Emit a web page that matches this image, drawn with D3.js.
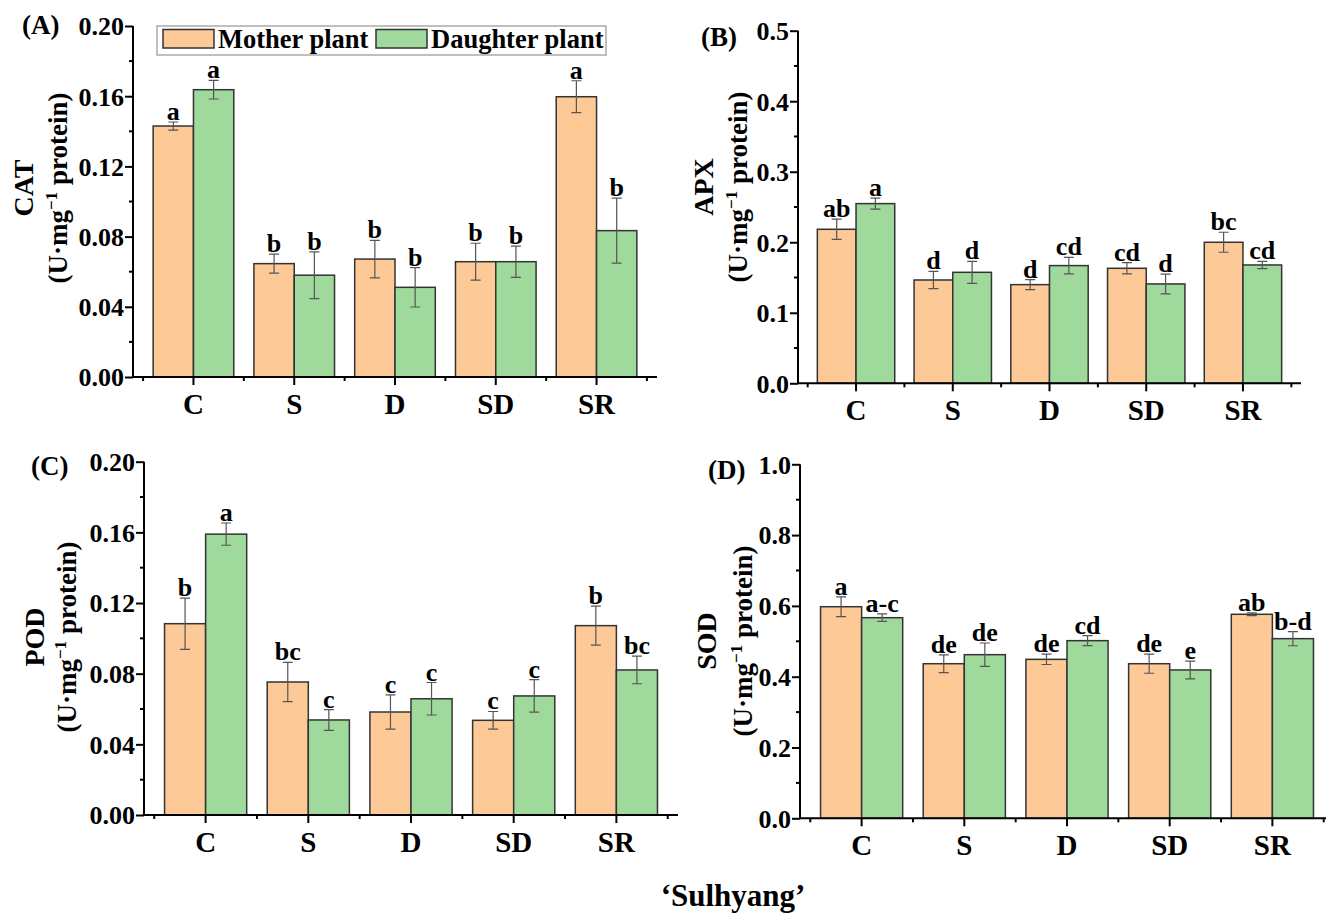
<!DOCTYPE html>
<html>
<head>
<meta charset="utf-8">
<script src="https://cdn.jsdelivr.net/npm/d3@7"></script>
<style>
  html, body { margin: 0; padding: 0; background: #fff; }
  svg text { font-family: "Liberation Serif", "Times New Roman", serif; font-weight: bold; fill: #000; }
</style>
</head>
<body>
<svg id="chart" width="1326" height="918"></svg>
<script>
// ---------------- DATA ----------------
const categories = ["C", "S", "D", "SD", "SR"];
const seriesNames = ["Mother plant", "Daughter plant"];

const catMother = [0.143, 0.0646, 0.0672, 0.0657, 0.1597];
const catMotherErr = [0.0023, 0.0054, 0.0107, 0.0105, 0.0091];
const catDaughter = [0.1637, 0.058, 0.0511, 0.0657, 0.0834];
const catDaughterErr = [0.0053, 0.0133, 0.0112, 0.0089, 0.0185];
const catMotherLetters = ["a", "b", "b", "b", "a"];
const catDaughterLetters = ["a", "b", "b", "b", "b"];

const apxMother = [0.2184, 0.1465, 0.1399, 0.1631, 0.2000];
const apxMotherErr = [0.0144, 0.0123, 0.0071, 0.0080, 0.0142];
const apxDaughter = [0.2548, 0.1574, 0.1669, 0.1409, 0.1678];
const apxDaughterErr = [0.0078, 0.0156, 0.0116, 0.0140, 0.0052];
const apxMotherLetters = ["ab", "d", "d", "cd", "bc"];
const apxDaughterLetters = ["a", "d", "cd", "d", "cd"];

const podMother = [0.1083, 0.0753, 0.0583, 0.0536, 0.1072];
const podMotherErr = [0.0145, 0.0111, 0.0097, 0.0050, 0.0110];
const podDaughter = [0.1590, 0.0538, 0.0658, 0.0674, 0.0821];
const podDaughterErr = [0.0063, 0.0059, 0.0092, 0.0092, 0.0078];
const podMotherLetters = ["b", "bc", "c", "c", "b"];
const podDaughterLetters = ["a", "c", "c", "c", "bc"];

const sodMother = [0.5977, 0.4367, 0.4490, 0.4367, 0.5763];
const sodMotherErr = [0.028, 0.025, 0.0146, 0.027, 0.004];
const sodDaughter = [0.5667, 0.4622, 0.5018, 0.4190, 0.5075];
const sodDaughterErr = [0.0105, 0.033, 0.014, 0.025, 0.020];
const sodMotherLetters = ["a", "de", "de", "de", "ab"];
const sodDaughterLetters = ["a-c", "de", "cd", "e", "b-d"];

const catTicks = [0.00, 0.04, 0.08, 0.12, 0.16, 0.20];
const apxTicks = [0.0, 0.1, 0.2, 0.3, 0.4, 0.5];
const podTicks = [0.00, 0.04, 0.08, 0.12, 0.16, 0.20];
const sodTicks = [0.0, 0.2, 0.4, 0.6, 0.8, 1.0];

const xTitle = "\u2018Sulhyang\u2019";

// ---------------- STYLE / LAYOUT ----------------
const colors = ["#FCC997", "#A0D99C"];
const svg = d3.select("#chart");

const panels = [
  { label: "(A)", name: "CAT", m: catMother, me: catMotherErr, d: catDaughter, de: catDaughterErr,
    ml: catMotherLetters, dl: catDaughterLetters, ticks: catTicks, fmt: ".2f",
    x0: 133, x1: 657, y0: 377, y1: 26, lab: [22, 34], t1x: 33, t2x: 67, tcy: 188 },
  { label: "(B)", name: "APX", m: apxMother, me: apxMotherErr, d: apxDaughter, de: apxDaughterErr,
    ml: apxMotherLetters, dl: apxDaughterLetters, ticks: apxTicks, fmt: ".1f",
    x0: 798, x1: 1301, y0: 383.3, y1: 30.7, lab: [701, 46], t1x: 713, t2x: 747, tcy: 187 },
  { label: "(C)", name: "POD", m: podMother, me: podMotherErr, d: podDaughter, de: podDaughterErr,
    ml: podMotherLetters, dl: podDaughterLetters, ticks: podTicks, fmt: ".2f",
    x0: 144, x1: 678, y0: 815, y1: 461.7, lab: [31, 475], t1x: 44, t2x: 76, tcy: 637 },
  { label: "(D)", name: "SOD", m: sodMother, me: sodMotherErr, d: sodDaughter, de: sodDaughterErr,
    ml: sodMotherLetters, dl: sodDaughterLetters, ticks: sodTicks, fmt: ".1f",
    x0: 800, x1: 1334, y0: 818.3, y1: 464.3, lab: [708, 479], t1x: 716, t2x: 752, tcy: 641 }
];

panels.forEach(p => {
  const g = svg.append("g");
  const x = d3.scaleBand().domain(categories).range([p.x0, p.x1]).paddingInner(0.2).paddingOuter(0.2);
  const xs = d3.scaleBand().domain(seriesNames).range([0, x.bandwidth()]);
  const top = p.ticks[p.ticks.length - 1];
  const y = d3.scaleLinear().domain([0, top]).range([p.y0, p.y1]);
  const step = x.step();

  const rows = categories.map((c, i) => ({
    c, vals: [
      { s: seriesNames[0], v: p.m[i], e: p.me[i], l: p.ml[i] },
      { s: seriesNames[1], v: p.d[i], e: p.de[i], l: p.dl[i] }
    ]
  }));

  const grp = g.selectAll("g.cat").data(rows).join("g")
    .attr("transform", r => `translate(${x(r.c)},0)`);

  grp.selectAll("rect").data(r => r.vals).join("rect")
    .attr("x", d => xs(d.s))
    .attr("y", d => y(d.v))
    .attr("width", xs.bandwidth())
    .attr("height", d => y(0) - y(d.v))
    .attr("fill", (d, i) => colors[i])
    .attr("stroke", "#333")
    .attr("stroke-width", 1.5);

  const cap = 5;
  grp.selectAll("path.err").data(r => r.vals).join("path")
    .attr("class", "err")
    .attr("d", d => {
      const cx = xs(d.s) + xs.bandwidth() / 2;
      const yt = y(d.v + d.e), yb = y(d.v - d.e);
      return `M${cx},${yt}V${yb}M${cx - cap},${yt}H${cx + cap}M${cx - cap},${yb}H${cx + cap}`;
    })
    .attr("stroke", "#555")
    .attr("stroke-width", 1.2)
    .attr("fill", "none");

  grp.selectAll("text.sig").data(r => r.vals).join("text")
    .attr("class", "sig")
    .attr("x", d => xs(d.s) + xs.bandwidth() / 2)
    .attr("y", d => y(d.v + d.e) - 2)
    .attr("text-anchor", "middle")
    .style("font-size", "26px")
    .text(d => d.l);

  const yAxis = d3.axisLeft(y).tickValues(p.ticks).tickFormat(d3.format(p.fmt))
    .tickSize(8).tickPadding(1);
  const ya = g.append("g").attr("transform", `translate(${p.x0},0)`).call(yAxis);
  ya.select(".domain").attr("stroke", "#000").attr("stroke-width", 2)
    .attr("d", `M0,${p.y1}V${p.y0}`);
  ya.selectAll(".tick line").attr("stroke", "#000").attr("stroke-width", 2);
  ya.selectAll(".tick text").style("font-size", "26px").attr("dy", "0.34em")
    .style("font-family", "'Liberation Serif', serif").style("font-weight", "bold");

  const minor = d3.range(0, p.ticks.length - 1).map(i => (p.ticks[i] + p.ticks[i + 1]) / 2);
  g.append("g").selectAll("line").data(minor).join("line")
    .attr("x1", p.x0 - 4).attr("x2", p.x0)
    .attr("y1", d => y(d)).attr("y2", d => y(d))
    .attr("stroke", "#000").attr("stroke-width", 2);

  g.append("line").attr("x1", p.x0).attr("x2", p.x1).attr("y1", p.y0).attr("y2", p.y0)
    .attr("stroke", "#000").attr("stroke-width", 2);
  g.append("g").selectAll("line").data(categories).join("line")
    .attr("x1", c => x(c) + x.bandwidth() / 2).attr("x2", c => x(c) + x.bandwidth() / 2)
    .attr("y1", p.y0).attr("y2", p.y0 + 8)
    .attr("stroke", "#000").attr("stroke-width", 2);
  const xminor = categories.map(c => x(c) + x.bandwidth() / 2 - step / 2)
    .concat([x(categories[categories.length - 1]) + x.bandwidth() / 2 + step / 2]);
  g.append("g").selectAll("line").data(xminor).join("line")
    .attr("x1", d => d).attr("x2", d => d)
    .attr("y1", p.y0).attr("y2", p.y0 + 4)
    .attr("stroke", "#000").attr("stroke-width", 2);
  g.append("g").selectAll("text").data(categories).join("text")
    .attr("x", c => x(c) + x.bandwidth() / 2)
    .attr("y", p.y0 + 37)
    .attr("text-anchor", "middle")
    .style("font-size", "29px")
    .text(c => c);

  g.append("text").attr("x", p.lab[0]).attr("y", p.lab[1]).style("font-size", "27px").text(p.label);

  g.append("text").attr("transform", `translate(${p.t1x},${p.tcy}) rotate(-90)`)
    .attr("text-anchor", "middle").style("font-size", "28px").text(p.name);
  const t2 = g.append("text").attr("transform", `translate(${p.t2x},${p.tcy}) rotate(-90)`)
    .attr("text-anchor", "middle").style("font-size", "27px");
  t2.append("tspan").text("(U\u00B7mg");
  t2.append("tspan").attr("dy", -10).style("font-size", "17px").text("\u22121");
  t2.append("tspan").attr("dy", 10).text(" protein)");
});

// legend
const lg = svg.append("g");
lg.append("rect").attr("x", 157).attr("y", 26).attr("width", 449).attr("height", 29)
  .attr("fill", "#fff").attr("stroke", "#aaa").attr("stroke-width", 1.5);
const legX = [163, 376];
seriesNames.forEach((s, i) => {
  lg.append("rect").attr("x", legX[i]).attr("y", 29.5).attr("width", 51).attr("height", 18.5)
    .attr("fill", colors[i]).attr("stroke", "#333").attr("stroke-width", 1.5);
  lg.append("text").attr("x", legX[i] + 55).attr("y", 48).style("font-size", "26.5px").text(s);
});

svg.append("text").attr("x", 733).attr("y", 906).attr("text-anchor", "middle")
  .style("font-size", "31px").text(xTitle);
</script>
</body>
</html>
